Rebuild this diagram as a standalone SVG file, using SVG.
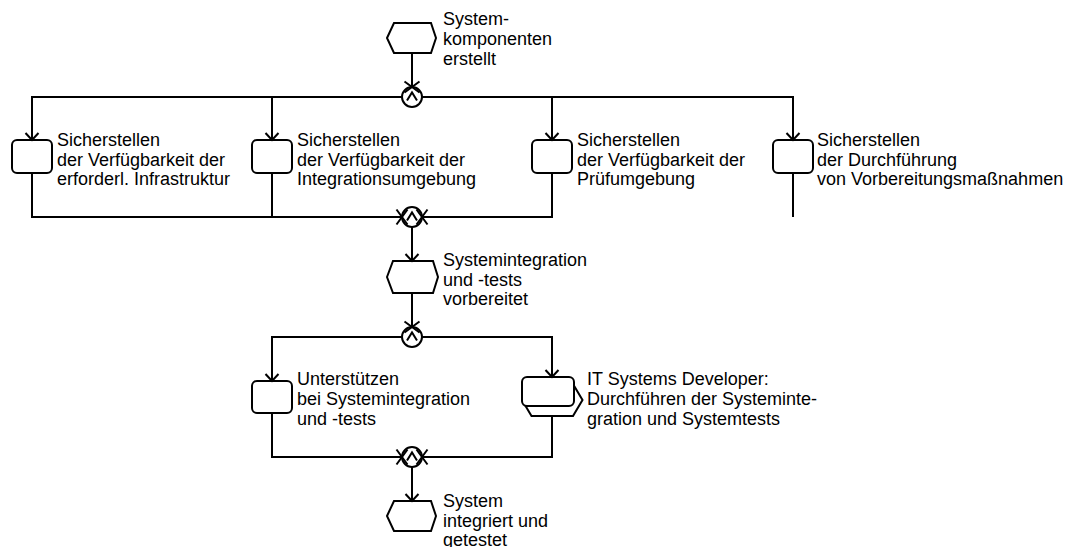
<svg xmlns="http://www.w3.org/2000/svg" width="1065" height="547" viewBox="0 0 1065 547">
  <style>
    .shape { fill: #fff; stroke: #000; stroke-width: 2; }
    .op { fill: #fff; stroke: #000; stroke-width: 2; }
    .caret { fill: none; stroke: #000; stroke-width: 2; }
    .conn { fill: none; stroke: #000; stroke-width: 2; }
    .lbl { font-family: "Liberation Sans", Arial, sans-serif; font-size: 18px; fill: #000; }
  </style>
  <defs>
    <!-- open arrowhead entering a node -->
    <marker id="arr" viewBox="-10 -10 20 20" markerWidth="20" markerHeight="20" markerUnits="userSpaceOnUse" refX="0" refY="0" orient="auto">
      <path d="M-7,-6.5 L0,0 L-7,6.5" fill="none" stroke="#000" stroke-width="2"/>
    </marker>
    <!-- crossed arrowhead entering an operator -->
    <marker id="xarr" viewBox="-10 -10 20 20" markerWidth="20" markerHeight="20" markerUnits="userSpaceOnUse" refX="0" refY="0" orient="auto">
      <path d="M-5.5,-7.5 L5.5,7.5 M-5.5,7.5 L5.5,-7.5" fill="none" stroke="#000" stroke-width="2"/>
    </marker>
  </defs>

  <!-- events -->
  <g id="ev-komponenten-erstellt">
    <polygon class="shape" points="387,38 394,23 431,23 436,38 431,53 394,53"/>
    <text class="lbl" x="443" y="25">System-</text>
    <text class="lbl" x="443" y="45">komponenten</text>
    <text class="lbl" x="443" y="65">erstellt</text>
  </g>
  <g id="ev-vorbereitet">
    <polygon class="shape" points="387,277 393,261 433,261 438,277 433,293 393,293"/>
    <text class="lbl" x="443" y="266">Systemintegration</text>
    <text class="lbl" x="443" y="285.5">und -tests</text>
    <text class="lbl" x="443" y="305">vorbereitet</text>
  </g>
  <g id="ev-integriert">
    <polygon class="shape" points="387,516 394,501 431,501 436,516 431,531 394,531"/>
    <text class="lbl" x="443" y="507">System</text>
    <text class="lbl" x="443" y="526.5">integriert und</text>
    <text class="lbl" x="443" y="546">getestet</text>
  </g>

  <!-- functions -->
  <g id="fn-infrastruktur">
    <rect class="shape" x="12" y="140" width="40" height="33" rx="5"/>
    <text class="lbl" x="57" y="146">Sicherstellen</text>
    <text class="lbl" x="57" y="165.5">der Verfügbarkeit der</text>
    <text class="lbl" x="57" y="185">erforderl. Infrastruktur</text>
  </g>
  <g id="fn-integrationsumgebung">
    <rect class="shape" x="252" y="140" width="40" height="33" rx="5"/>
    <text class="lbl" x="297" y="146">Sicherstellen</text>
    <text class="lbl" x="297" y="165.5">der Verfügbarkeit der</text>
    <text class="lbl" x="297" y="185">Integrationsumgebung</text>
  </g>
  <g id="fn-pruefumgebung">
    <rect class="shape" x="532" y="140" width="40" height="33" rx="5"/>
    <text class="lbl" x="577" y="146">Sicherstellen</text>
    <text class="lbl" x="577" y="165.5">der Verfügbarkeit der</text>
    <text class="lbl" x="577" y="185">Prüfumgebung</text>
  </g>
  <g id="fn-vorbereitung">
    <rect class="shape" x="773" y="140" width="40" height="33" rx="5"/>
    <text class="lbl" x="817" y="146">Sicherstellen</text>
    <text class="lbl" x="817" y="165.5">der Durchführung</text>
    <text class="lbl" x="817" y="185">von Vorbereitungsmaßnahmen</text>
  </g>
  <g id="fn-unterstuetzen">
    <rect class="shape" x="252" y="381" width="40" height="32" rx="5"/>
    <text class="lbl" x="297" y="385">Unterstützen</text>
    <text class="lbl" x="297" y="405">bei Systemintegration</text>
    <text class="lbl" x="297" y="425">und -tests</text>
  </g>
  <g id="fn-systemtests">
    <polygon class="shape" points="522,400 531.5,384 573,384 582.5,400 573,416 531.5,416"/>
    <rect class="shape" x="522" y="377" width="52" height="29" rx="5"/>
    <text class="lbl" x="587" y="385">IT Systems Developer:</text>
    <text class="lbl" x="587" y="405">Durchführen der Systeminte-</text>
    <text class="lbl" x="587" y="425">gration und Systemtests</text>
  </g>

  <!-- AND operators -->
  <g id="op-split-1">
    <circle class="op" cx="412" cy="97" r="10"/>
    <polyline class="caret" points="407,100.5 412,92.5 417,100.5"/>
  </g>
  <g id="op-join-1">
    <circle class="op" cx="412" cy="217" r="10"/>
    <polyline class="caret" points="407,220.5 412,212.5 417,220.5"/>
  </g>
  <g id="op-split-2">
    <circle class="op" cx="412" cy="337" r="10"/>
    <polyline class="caret" points="407,340.5 412,332.5 417,340.5"/>
  </g>
  <g id="op-join-2">
    <circle class="op" cx="412" cy="457" r="10"/>
    <polyline class="caret" points="407,460.5 412,452.5 417,460.5"/>
  </g>

  <!-- connectors -->
  <g id="connectors" class="conn">
    <path d="M412,53 V87" marker-end="url(#xarr)"/>
    <path d="M402,97 H32 V140" marker-end="url(#arr)"/>
    <path d="M272,97 V140" marker-end="url(#arr)"/>
    <path d="M422,97 H552 V140" marker-end="url(#arr)"/>
    <path d="M552,97 H793 V140" marker-end="url(#arr)"/>
    <path d="M32,173 V217 H402" marker-end="url(#xarr)"/>
    <path d="M272,173 V217"/>
    <path d="M552,173 V217 H422" marker-end="url(#xarr)"/>
    <path d="M793,173 V217"/>
    <path d="M412,227 V261" marker-end="url(#arr)"/>
    <path d="M412,293 V327" marker-end="url(#xarr)"/>
    <path d="M402,337 H272 V381" marker-end="url(#arr)"/>
    <path d="M422,337 H552 V377" marker-end="url(#arr)"/>
    <path d="M272,413 V457 H402" marker-end="url(#xarr)"/>
    <path d="M552,416 V457 H422" marker-end="url(#xarr)"/>
    <path d="M412,467 V501" marker-end="url(#arr)"/>
  </g>
</svg>
